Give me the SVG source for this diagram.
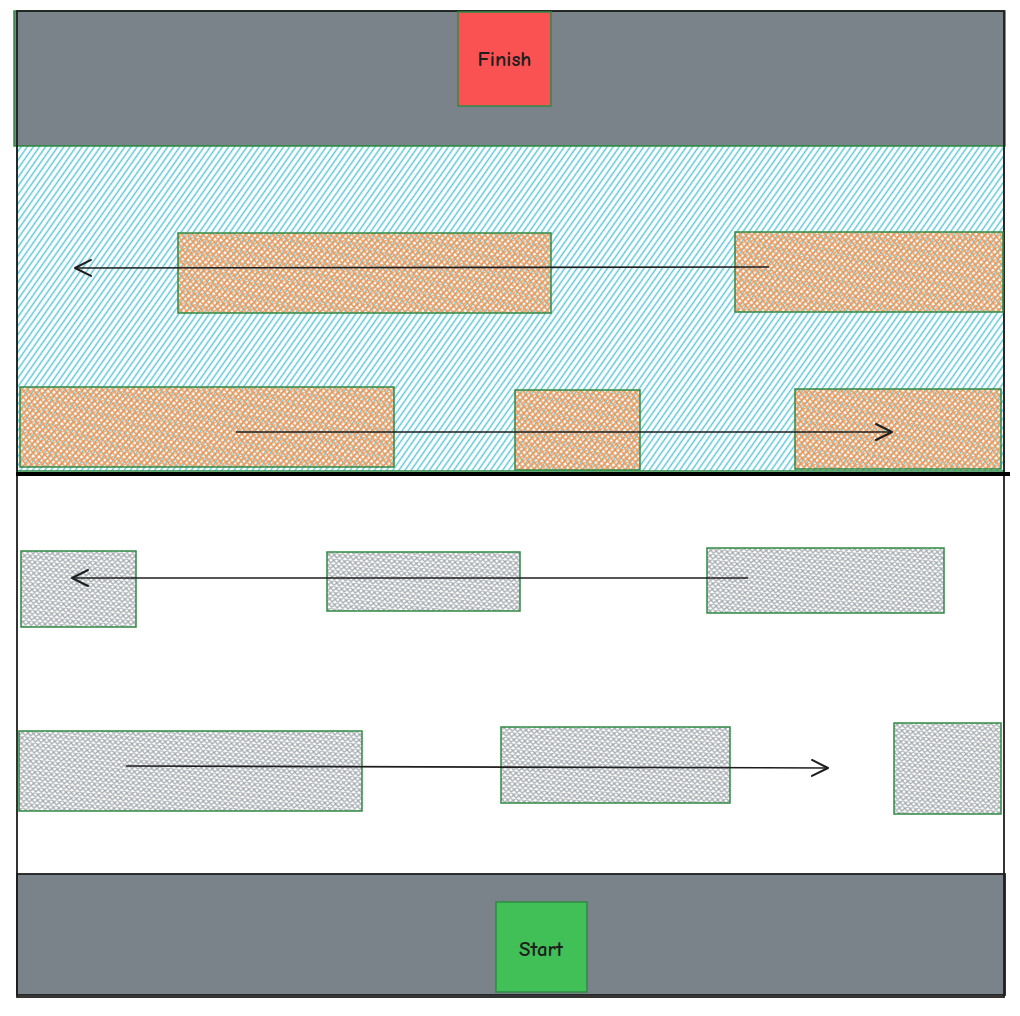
<svg xmlns="http://www.w3.org/2000/svg" width="1020" height="1016" viewBox="0 0 1020 1016">
  <defs>
    <pattern id="water" width="5" height="20" patternUnits="userSpaceOnUse" patternTransform="rotate(35)">
      <line x1="1.5" y1="0" x2="1.5" y2="20" stroke="#5ec4d6" stroke-width="1.5"/>
    </pattern>
    <pattern id="logHatch" width="6" height="6" patternUnits="userSpaceOnUse" patternTransform="rotate(8)">
      <path d="M0 0 L6 6 M6 0 L0 6 M-1 5 L1 7 M5 -1 L7 1 M5 7 L7 5 M-1 1 L1 -1" stroke="#f39450" stroke-width="1.5" fill="none"/>
    </pattern>
    <pattern id="carHatch" width="5.5" height="5.5" patternUnits="userSpaceOnUse" patternTransform="rotate(6)">
      <path d="M0 0 L5.5 5.5 M5.5 0 L0 5.5 M-1 4.5 L1 6.5 M4.5 -1 L6.5 1 M4.5 6.5 L6.5 4.5 M-1 1 L1 -1" stroke="#a3a9ae" stroke-width="1.3" fill="none"/>
    </pattern>
    <marker id="arrow" viewBox="0 0 20 20" refX="18" refY="10" markerWidth="20" markerHeight="20" markerUnits="userSpaceOnUse" orient="auto">
      <path d="M2 2 L18 10 L2 18" fill="none" stroke="#1e1e1e" stroke-width="2" stroke-linecap="round" stroke-linejoin="round"/>
    </marker>
    <style>
      .band { fill: #7b838a; }
      .log { fill: url(#logHatch); stroke: #2f8a44; stroke-width: 1.5; }
      .car { fill: url(#carHatch); stroke: #2f8a44; stroke-width: 1.5; }
      .conn { stroke: #1e1e1e; stroke-width: 1.6; fill: none; marker-end: url(#arrow); }
      .label { font-family: "Comic Neue", "Liberation Sans", "DejaVu Sans", sans-serif; font-size: 21px; font-weight: bold; fill: #1e1e1e; text-anchor: middle; dominant-baseline: central; }
    </style>
  </defs>

  <rect width="1020" height="1016" fill="#ffffff"/>

  <g id="finish-zone">
    <rect class="band" x="14" y="11" width="991" height="135" stroke="#2f8a44" stroke-width="1.5"/>
  </g>

  <g id="river">
    <rect x="17" y="146" width="987" height="325" fill="#ffffff"/>
    <rect x="17" y="146" width="987" height="325" fill="url(#water)" stroke="#2f8a44" stroke-width="1.5"/>
  </g>

  <g id="start-zone">
    <rect class="band" x="17" y="874" width="988" height="121" stroke="#1e1e1e" stroke-width="1.8"/>
  </g>

  <g id="frame">
    <rect x="17" y="11" width="987" height="986" fill="none" stroke="#1e1e1e" stroke-width="1.8"/>
    <line x1="16" y1="474" x2="1010" y2="474" stroke="#000000" stroke-width="4"/>
  </g>

  <g id="finish">
    <rect x="458" y="12" width="93" height="94" fill="#fa5252" stroke="#2f8a44" stroke-width="1.5"/>
    <text class="label" x="504.5" y="59">Finish</text>
  </g>

  <g id="start">
    <rect x="496" y="902" width="91" height="90" fill="#40c057" stroke="#2f8a44" stroke-width="1.5"/>
    <text class="label" x="541" y="949">Start</text>
  </g>

  <g id="log-1"><rect class="log" x="178" y="233" width="373" height="80"/></g>
  <g id="log-2"><rect class="log" x="735" y="232" width="268" height="80"/></g>
  <g id="log-3"><rect class="log" x="20" y="387" width="374" height="80"/></g>
  <g id="log-4"><rect class="log" x="515" y="390" width="125" height="80"/></g>
  <g id="log-5"><rect class="log" x="795" y="389" width="206" height="80"/></g>

  <g id="car-1"><rect class="car" x="21" y="551" width="115" height="76"/></g>
  <g id="car-2"><rect class="car" x="327" y="552" width="193" height="59"/></g>
  <g id="car-3"><rect class="car" x="707" y="548" width="237" height="65"/></g>
  <g id="car-4"><rect class="car" x="19" y="731" width="343" height="80"/></g>
  <g id="car-5"><rect class="car" x="501" y="727" width="229" height="76"/></g>
  <g id="car-6"><rect class="car" x="894" y="723" width="107" height="91"/></g>

  <g id="connectors">
    <path class="conn" d="M769 267 L75 268"/>
    <path class="conn" d="M236 432 L892 432"/>
    <path class="conn" d="M748 578 L72 578"/>
    <path class="conn" d="M126 766 L828 768"/>
  </g>
</svg>
